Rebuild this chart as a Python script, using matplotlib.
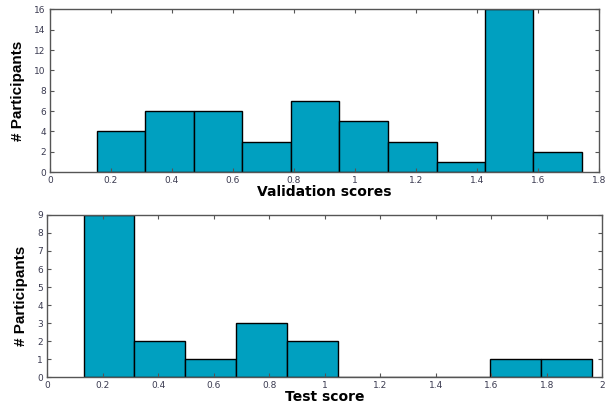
import numpy as np
import matplotlib
matplotlib.use('Agg')
import matplotlib.pyplot as plt

# histogram data
val_edges = [0.153, 0.312, 0.471, 0.630, 0.789, 0.948, 1.109, 1.268, 1.427, 1.585, 1.744]
val_counts = [4, 6, 6, 3, 7, 5, 3, 1, 16, 2]

test_edges = [0.131, 0.314, 0.497, 0.680, 0.863, 1.046, 1.229, 1.412, 1.595, 1.778, 1.961]
test_counts = [9, 2, 1, 3, 2, 0, 0, 0, 1, 1]

bar_color = '#00a0c0'
tick_color = '#3a3a50'

fig = plt.figure(figsize=(6.11, 4.07), dpi=100)
ax1 = fig.add_axes([0.0818, 0.577, 0.8982, 0.400])
ax2 = fig.add_axes([0.0774, 0.073, 0.9086, 0.399])


def draw_hist(ax, edges, counts):
    edges = np.array(edges)
    ax.bar(edges[:-1], counts, width=np.diff(edges), align='edge',
           color=bar_color, edgecolor='black', linewidth=1.0)
    for s in ax.spines.values():
        s.set_color('#555555')
        s.set_linewidth(1.0)
    ax.tick_params(direction='in', top=True, right=True, length=3,
                   labelsize=6.5, colors='#555555', labelcolor=tick_color,
                   pad=3)
    ax.set_ylabel('# Participants', fontsize=11, fontweight='bold',
                  family='Liberation Sans', labelpad=7)


draw_hist(ax1, val_edges, val_counts)
ax1.set_xlim(0, 1.8)
ax1.set_ylim(0, 16)
ax1.set_xticks(np.arange(0, 1.81, 0.2))
ax1.set_xticklabels(['0', '0.2', '0.4', '0.6', '0.8', '1', '1.2', '1.4', '1.6', '1.8'])
ax1.set_yticks(range(0, 17, 2))
ax1.set_xlabel('Validation scores', fontsize=10, fontweight='bold', labelpad=0)

draw_hist(ax2, test_edges, test_counts)
ax2.set_xlim(0, 2)
ax2.set_ylim(0, 9)
ax2.set_xticks(np.arange(0, 2.01, 0.2))
ax2.set_xticklabels(['0', '0.2', '0.4', '0.6', '0.8', '1', '1.2', '1.4', '1.6', '1.8', '2'])
ax2.set_yticks(range(0, 10))
ax2.set_xlabel('Test score', fontsize=10, fontweight='bold', labelpad=0)

fig.savefig('out.png', dpi=100)
